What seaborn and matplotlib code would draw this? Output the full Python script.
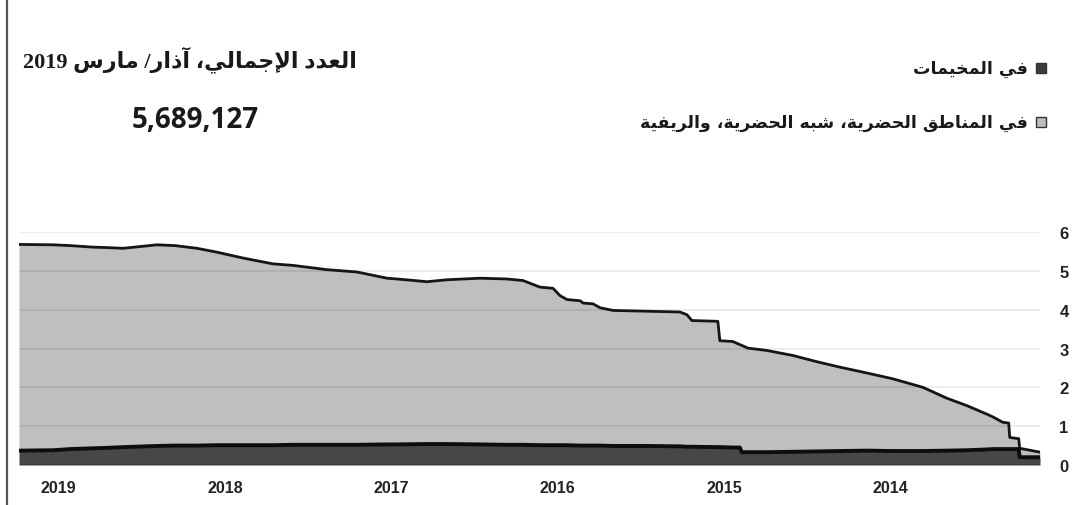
import re
import numpy as np
import matplotlib
matplotlib.use("Agg")
import matplotlib.pyplot as plt
from matplotlib.lines import Line2D
from matplotlib.patches import Rectangle
import seaborn as sns

# ── data (millions; x = decimal year) ─────────────────────────────────────────
dates = [2019.238, 2019.034, 2018.931, 2018.793, 2018.715, 2018.613, 2018.409,
         2018.301, 2018.168, 2018.048, 2017.892, 2017.712, 2017.591, 2017.387,
         2017.207, 2017.026, 2016.966, 2016.786, 2016.666, 2016.468, 2016.305,
         2016.209, 2016.107, 2016.029, 2015.986, 2015.944, 2015.866, 2015.848,
         2015.788, 2015.746, 2015.668, 2015.464, 2015.266, 2015.224, 2015.194,
         2015.038, 2015.026, 2014.948, 2014.906, 2014.894, 2014.858, 2014.744,
         2014.587, 2014.443, 2014.305, 2014.143, 2013.987, 2013.806, 2013.662,
         2013.542, 2013.422, 2013.386, 2013.326, 2013.290, 2013.284, 2013.236,
         2013.230, 2013.224, 2013.102]
camps = [0.37, 0.38, 0.41, 0.43, 0.44, 0.46, 0.49, 0.50, 0.50, 0.51, 0.51, 0.51,
         0.52, 0.52, 0.52, 0.53, 0.53, 0.54, 0.54, 0.53, 0.52, 0.52, 0.51, 0.51,
         0.51, 0.51, 0.50, 0.50, 0.50, 0.50, 0.49, 0.49, 0.48, 0.47, 0.47, 0.46,
         0.46, 0.45, 0.45, 0.33, 0.33, 0.33, 0.34, 0.35, 0.36, 0.37, 0.36, 0.36,
         0.37, 0.38, 0.40, 0.41, 0.41, 0.41, 0.41, 0.41, 0.41, 0.20, 0.20]
urban = [5.31, 5.29, 5.24, 5.18, 5.16, 5.12, 5.18, 5.15, 5.08, 4.97, 4.82, 4.67,
         4.62, 4.51, 4.45, 4.28, 4.26, 4.18, 4.23, 4.28, 4.27, 4.23, 4.07, 4.04,
         3.85, 3.75, 3.73, 3.67, 3.65, 3.55, 3.49, 3.47, 3.46, 3.40, 3.25, 3.24,
         2.74, 2.73, 2.65, 2.75, 2.68, 2.62, 2.48, 2.31, 2.16, 2.00, 1.86, 1.64,
         1.35, 1.15, 0.91, 0.83, 0.69, 0.67, 0.30, 0.27, 0.27, 0.23, 0.13]

year_ticks = [2019, 2018, 2017, 2016, 2015, 2014]
value_ticks = [0, 1, 2, 3, 4, 5, 6]

title_text = "العدد الإجمالي، آذار/ مارس 2019"
total_text = "5,689,127"
legend_labels = ["في المخيمات", "في المناطق الحضرية، شبه الحضرية، والريفية"]
legend_colors = ["#3c3c3c", "#bdbdbd"]

# ── minimal Arabic shaping (matplotlib has no complex text layout) ────────────
FORMS = {
    "ا": (0xFE8D, 2), "آ": (0xFE81, 2), "أ": (0xFE83, 2), "إ": (0xFE87, 2),
    "ب": (0xFE8F, 4), "ة": (0xFE93, 2), "ت": (0xFE95, 4), "ج": (0xFE9D, 4),
    "ح": (0xFEA1, 4), "خ": (0xFEA5, 4), "د": (0xFEA9, 2), "ذ": (0xFEAB, 2),
    "ر": (0xFEAD, 2), "س": (0xFEB1, 4), "ش": (0xFEB5, 4), "ض": (0xFEBD, 4),
    "ط": (0xFEC1, 4), "ع": (0xFEC9, 4), "ف": (0xFED1, 4), "ق": (0xFED5, 4),
    "ل": (0xFEDD, 4), "م": (0xFEE1, 4), "ن": (0xFEE5, 4), "ه": (0xFEE9, 4),
    "و": (0xFEED, 2), "ي": (0xFEF1, 4),
}
LAM_ALEF = {"آ": 0xFEF5, "أ": 0xFEF7, "إ": 0xFEF9, "ا": 0xFEFB}
LTR = re.compile(r"([0-9A-Za-z][0-9A-Za-z.,]*)")


def shape(text):
    units, i = [], 0
    while i < len(text):
        ch = text[i]
        if ch == "ل" and i + 1 < len(text) and text[i + 1] in LAM_ALEF:
            units.append((LAM_ALEF[text[i + 1]], 2))
            i += 2
            continue
        units.append(FORMS.get(ch, ch))
        i += 1
    out = []
    for k, u in enumerate(units):
        if isinstance(u, str):
            out.append(u)
            continue
        prev = units[k - 1] if k > 0 else None
        nxt = units[k + 1] if k + 1 < len(units) else None
        jp = isinstance(prev, tuple) and prev[1] == 4
        jn = u[1] == 4 and isinstance(nxt, tuple)
        off = 3 if (jp and jn) else 1 if jp else 2 if jn else 0
        out.append(chr(u[0] + off))
    return "".join(out)


def rtl(text):
    parts = [p for p in LTR.split(shape(text)) if p]
    return "".join(p if LTR.fullmatch(p) else p[::-1] for p in reversed(parts))


# ── figure ────────────────────────────────────────────────────────────────────
sns.set_theme(style="white")
plt.rcParams["font.family"] = ["DejaVu Sans"]

W, H = 1079, 506
fig = plt.figure(figsize=(W / 100, H / 100), dpi=100)
ax = fig.add_axes([19 / W, 1 - 466 / H, (1040 - 19) / W, (466 - 233) / H])

x = np.array(dates)
c = np.array(camps)
top = c + np.array(urban)

ax.fill_between(x, 0, c, color="#474747", lw=0, zorder=1)
ax.fill_between(x, c, top, color="#bfbfbf", lw=0, zorder=1)
sns.lineplot(x=x, y=top, ax=ax, color="#151515", linewidth=2.0, zorder=3)
sns.lineplot(x=x, y=c, ax=ax, color="#0d0d0d", linewidth=2.8, zorder=3)

ax.set_xlim(dates[0], dates[-1])
ax.set_ylim(0, 6)
ax.set_xticks(year_ticks)
ax.set_xticklabels([str(y) for y in year_ticks])
ax.set_yticks(value_ticks)
ax.yaxis.tick_right()
ax.grid(axis="y", color="black", alpha=0.09, linewidth=1.2)
ax.grid(axis="x", visible=False)
ax.set_axisbelow(False)
for s in ax.spines.values():
    s.set_visible(False)
ax.tick_params(axis="x", direction="out", length=5, width=1.5, color="#333333",
               pad=6, labelsize=11.5, labelcolor="#222222")
ax.tick_params(axis="y", length=0, pad=14, labelsize=12, labelcolor="#222222")
for lab in ax.get_xticklabels() + ax.get_yticklabels():
    lab.set_fontweight("bold")
    lab.set_family(["Liberation Sans", "DejaVu Sans"])
ax.set_xlabel("")
ax.set_ylabel("")

# ── header text ───────────────────────────────────────────────────────────────
fig.text(357 / W, 1 - 60 / H, rtl(title_text), ha="right", va="center",
         fontsize=16, fontweight="bold", color="#1a1a1a",
         family=["Liberation Serif", "DejaVu Sans"])
fig.text(195 / W, 1 - 121 / H, total_text, ha="center", va="center",
         fontsize=20, fontweight="bold", color="#1a1a1a",
         family=["Open Sans", "DejaVu Sans"])

for lab, col, py in zip(legend_labels, legend_colors, [69, 123]):
    fig.text(1028 / W, 1 - py / H, rtl(lab), ha="right", va="center",
             fontsize=12.5, fontweight="bold", color="#1a1a1a")
    fig.patches.append(Rectangle((1036 / W, 1 - (py + 5) / H), 10 / W, 10 / H,
                                 facecolor=col, edgecolor="#333333", lw=1,
                                 transform=fig.transFigure, figure=fig))

# left frame line of the original graphic
fig.add_artist(Line2D([7 / W, 7 / W], [0, 1], color="#555555", lw=1.6))

fig.savefig("out.png", dpi=100)
